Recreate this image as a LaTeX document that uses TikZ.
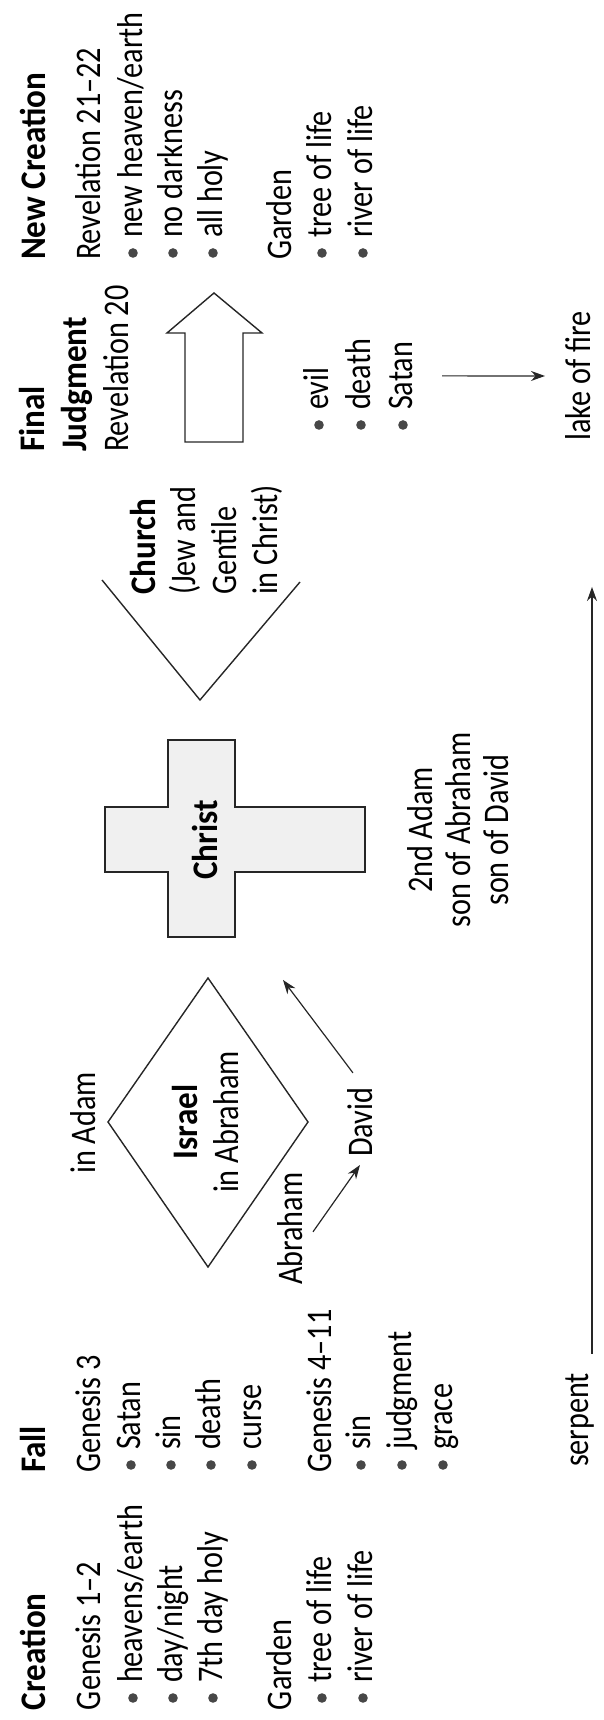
\documentclass[tikz,border=0pt]{standalone}
\usepackage{fontspec}
\setmainfont{Carlito}[FakeStretch=0.84]
\newfontfamily\hdfont{Carlito}[FakeStretch=0.92]
\usetikzlibrary{arrows.meta}
\begin{document}
\begin{tikzpicture}[x=0.5pt,y=0.5pt,
  every node/.style={inner sep=0pt, outer sep=0pt},
  tx/.style={font=\fontsize{18pt}{20pt}\selectfont, anchor=base west},
  hd/.style={font=\fontsize{18pt}{20pt}\hdfont\bfseries, anchor=base west},
  tc/.style={font=\fontsize{18pt}{20pt}\selectfont, anchor=base},
  hc/.style={font=\fontsize{18pt}{20pt}\hdfont\bfseries, anchor=base},
  bulc/.style={fill=black!72},
  shp/.style={draw=black!85, line width=0.7pt, line join=miter},
  arr/.style={draw=black!85, line width=0.6pt, -{Stealth[length=7pt,width=5pt]}}
]
\useasboundingbox (0,0) rectangle (604,1720);
\newcommand\bul[1]{\fill[bulc] ([shift={(-15,9)}]#1.base west) circle (4.8);}
\begin{scope}[rotate=90, transform shape]
% ---- Creation
\node[hd] (cre1) at (10,-46) {Creation};
\node[tx] (cre2) at (10,-100) {Genesis 1--2};
\node[tx] (cre3) at (37,-142) {heavens/earth};
\node[tx] (cre4) at (37,-182) {day/night};
\node[tx] (cre5) at (37,-222) {7th day holy};
\node[tx] (cre6) at (10,-291) {Garden};
\node[tx] (cre7) at (37,-331) {tree of life};
\node[tx] (cre8) at (37,-372) {river of life};
\bul{cre3}\bul{cre4}\bul{cre5}\bul{cre7}\bul{cre8}
% ---- Fall
\node[hd] (fa1) at (247,-46) {Fall};
\node[tx] (fa2) at (247,-100) {Genesis 3};
\node[tx] (fa3) at (270,-140) {Satan};
\node[tx] (fa4) at (270,-180) {sin};
\node[tx] (fa5) at (270,-220) {death};
\node[tx] (fa6) at (270,-261) {curse};
\node[tx] (fa7) at (247,-331) {Genesis 4--11};
\node[tx] (fa8) at (270,-370) {sin};
\node[tx] (fa9) at (270,-411) {judgment};
\node[tx] (fa10) at (270,-452) {grace};
\bul{fa3}\bul{fa4}\bul{fa5}\bul{fa6}\bul{fa8}\bul{fa9}\bul{fa10}
\node[tx] (serpent) at (253,-588) {serpent};
% ---- Israel
\draw[shp] (453,-208) coordinate (dl) -- (598,-108) coordinate (dt) -- (742,-208) coordinate (dr) -- (598,-308) coordinate (db) -- cycle;
\node[tc] (adam) at (597,-95) {in Adam};
\node[hc] (israel) at (598,-197) {Israel};
\node[tc] (inabr) at (598,-238) {in Abraham};
\node[tx] (abraham) at (435,-302) {Abraham};
\node[tx] (david) at (563,-372) {David};
% ---- Christ
\draw[shp, line width=1pt, fill=black!6]
  (848,-105) -- (913,-105) -- (913,-168) -- (980,-168) -- (980,-235) -- (913,-235)
  -- (913,-365) -- (848,-365) -- (848,-235) -- (783,-235) coordinate (xbl) -- (783,-168) -- (848,-168) -- cycle;
\node[hc] (christ) at (880,-217) {Christ};
\node[tc] (sa1) at (890,-432) {2nd Adam};
\node[tc] (sa2) at (890,-470) {son of Abraham};
\node[tc] (sa3) at (890,-508) {son of David};
\coordinate (cin) at (740,-283);
% ---- Church
\draw[shp] (1140,-102) coordinate (ct) -- (1020,-200) coordinate (cv) -- (1138,-300) coordinate (cb);
\node[hd] (ch1) at (1125,-155) {Church};
\node[tx] (ch2) at (1125,-195) {(Jew and};
\node[tx] (ch3) at (1125,-236) {Gentile};
\node[tx] (ch4) at (1125,-277) {in Christ)};
\coordinate (tl) at (1133,-592);
% ---- Final Judgment
\node[hd] (fj1) at (1268,-44) {Final};
\node[hd] (fj2) at (1268,-86) {Judgment};
\node[tx] (fj3) at (1268,-128) {Revelation 20};
\draw[shp] (1278,-185) -- (1387,-185) -- (1387,-167) -- (1427,-214) coordinate (tip) -- (1387,-262) -- (1387,-243) -- (1278,-243) -- cycle;
\node[tx] (fj4) at (1310,-328) {evil};
\node[tx] (fj5) at (1310,-370) {death};
\node[tx] (fj6) at (1310,-412) {Satan};
\bul{fj4}\bul{fj5}\bul{fj6}
\node[tc] (lake) at (1344,-590) {lake of fire};
% ---- New Creation
\node[hd] (nc1) at (1460,-46) {New Creation};
\node[tx] (nc2) at (1460,-100) {Revelation 21--22};
\node[tx] (nc3) at (1482,-142) {new heaven/earth};
\node[tx] (nc4) at (1482,-182) {no darkness};
\node[tx] (nc5) at (1482,-222) {all holy};
\node[tx] (nc6) at (1460,-291) {Garden};
\node[tx] (nc7) at (1482,-331) {tree of life};
\node[tx] (nc8) at (1482,-372) {river of life};
\bul{nc3}\bul{nc4}\bul{nc5}\bul{nc7}\bul{nc8}
% ---- connectors
\draw[arr] ([shift={(-3,-11)}]abraham.base) -- ([shift={(-8,12)}]david.base west);
\draw[arr] ([shift={(15,19)}]david.base east) -- (cin);
\draw[arr] ([shift={(19,-4)}]serpent.base east) -- (tl);
\draw[arr] ([yshift=-15]fj6.base) -- ([yshift=10]lake.north);
\end{scope}
\end{tikzpicture}
\end{document}
